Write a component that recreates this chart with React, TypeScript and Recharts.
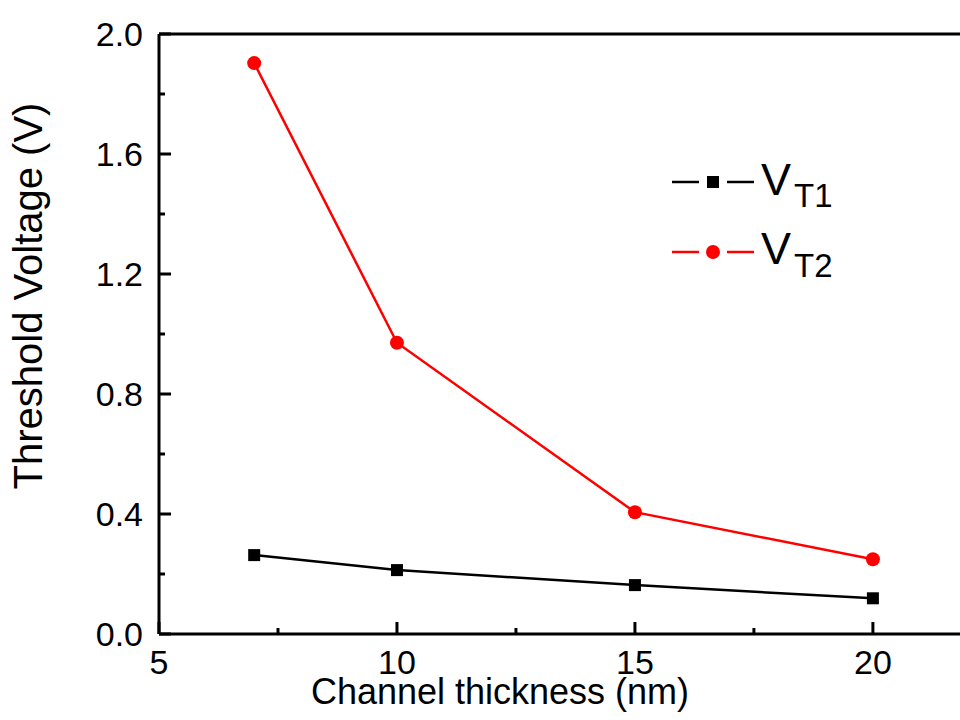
import React from 'react';
import { LineChart, Line, XAxis, YAxis, ReferenceLine, Customized } from 'recharts';

const thickness = [7, 10, 15, 20];
const vt1 = [0.263, 0.213, 0.163, 0.119];
const vt2 = [1.903, 0.971, 0.406, 0.249];
const xTicks = [5, 7.5, 10, 12.5, 15, 17.5, 20];
const xMajor = [5, 10, 15, 20];
const yTicks = [0, 0.2, 0.4, 0.6, 0.8, 1.0, 1.2, 1.4, 1.6, 1.8, 2.0];
const yMajor = [0, 0.4, 0.8, 1.2, 1.6, 2.0];

const data = thickness.map((t, i) => ({ t, vt1: vt1[i], vt2: vt2[i] }));

const FONT = 'Liberation Sans, Arial, sans-serif';

const isMajor = (arr: number[], v: number) => arr.some((m) => Math.abs(m - v) < 1e-6);

const XTick = (props: any) => {
  const { x, y, payload } = props;
  const major = isMajor(xMajor, payload.value);
  return (
    <g>
      <line x1={x} x2={x} y1={y} y2={y - (major ? 12 : 6)} stroke="#000" strokeWidth={3} />
      {major && (
        <text x={x} y={y + 40} textAnchor="middle" fontSize={34} fontFamily={FONT} fill="#000">
          {payload.value}
        </text>
      )}
    </g>
  );
};

const YTick = (props: any) => {
  const { x, y, payload } = props;
  const major = isMajor(yMajor, payload.value);
  return (
    <g>
      <line x1={x} x2={x + (major ? 12 : 6)} y1={y} y2={y} stroke="#000" strokeWidth={3} />
      {major && (
        <text x={x - 16} y={y} dy="0.36em" textAnchor="end" fontSize={34} fontFamily={FONT} fill="#000">
          {Number(payload.value).toFixed(1)}
        </text>
      )}
    </g>
  );
};

const SquareDot = (props: any) => {
  const { cx, cy, index } = props;
  return <rect key={`sq-${index}`} x={cx - 6} y={cy - 6} width={12} height={12} fill="#000" />;
};

const CircleDot = (props: any) => {
  const { cx, cy, index } = props;
  return <circle key={`ci-${index}`} cx={cx} cy={cy} r={7} fill="#ff0000" />;
};

const Overlay = () => (
  <g fontFamily={FONT}>
    <text x={500} y={704} textAnchor="middle" fontSize={36} fill="#000">
      Channel thickness (nm)
    </text>
    <text x={42} y={296} transform="rotate(-90 42 296)" textAnchor="middle" fontSize={40} fill="#000">
      Threshold Voltage (V)
    </text>
    {/* legend */}
    <line x1={672} x2={699} y1={182} y2={182} stroke="#000" strokeWidth={2.5} />
    <rect x={707} y={176} width={12} height={12} fill="#000" />
    <line x1={727} x2={754} y1={182} y2={182} stroke="#000" strokeWidth={2.5} />
    <text x={761} y={195} fontSize={45} fill="#000">V</text>
    <text x={794} y={207} fontSize={33} fill="#000">T1</text>
    <line x1={672} x2={699} y1={252} y2={252} stroke="#ff0000" strokeWidth={2.5} />
    <circle cx={713} cy={252} r={7} fill="#ff0000" />
    <line x1={727} x2={754} y1={252} y2={252} stroke="#ff0000" strokeWidth={2.5} />
    <text x={761} y={264} fontSize={45} fill="#000">V</text>
    <text x={794} y={277} fontSize={33} fill="#000">T2</text>
  </g>
);

export default function App() {
  return (
    <div style={{ position: 'fixed', left: 0, top: 0, width: 960, height: 720, overflow: 'hidden', background: '#fff' }}>
      <LineChart width={960} height={720} data={data} margin={{ top: 34, right: 0, bottom: 0, left: 0 }}>
        <XAxis
          dataKey="t"
          type="number"
          domain={[5, 21.83]}
          ticks={xTicks}
          interval={0}
          allowDataOverflow
          height={86}
          tickSize={0}
          tickMargin={0}
          tickLine={false}
          tick={<XTick />}
          axisLine={{ stroke: '#000', strokeWidth: 3 }}
        />
        <YAxis
          type="number"
          domain={[0, 2]}
          ticks={yTicks}
          interval={0}
          allowDataOverflow
          width={159}
          tickSize={0}
          tickMargin={0}
          tickLine={false}
          tick={<YTick />}
          axisLine={{ stroke: '#000', strokeWidth: 3 }}
        />
        <ReferenceLine y={2} stroke="#000" strokeWidth={3} />
        <Line dataKey="vt1" stroke="#000" strokeWidth={2.5} dot={<SquareDot />} isAnimationActive={false} />
        <Line dataKey="vt2" stroke="#ff0000" strokeWidth={2.5} dot={<CircleDot />} isAnimationActive={false} />
        <Customized component={Overlay} />
      </LineChart>
    </div>
  );
}
